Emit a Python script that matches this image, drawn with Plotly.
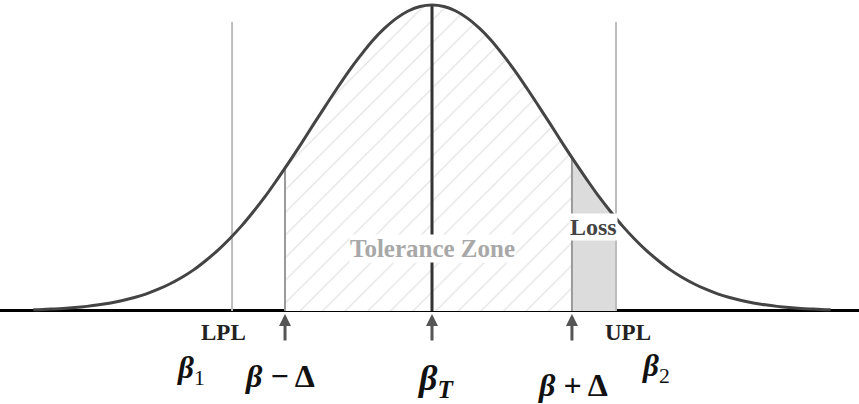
import plotly.graph_objects as go

# Curve (x in sigma units, height relative to peak)
curve_x = [-3.35, -3.3, -3.2, -3.1, -3.0, -2.9, -2.8, -2.7, -2.6, -2.5, -2.4, -2.3, -2.2, -2.1,
           -2.0, -1.9, -1.8, -1.7, -1.6, -1.5, -1.4, -1.3, -1.2, -1.1, -1.0, -0.9, -0.8,
           -0.7, -0.6, -0.5, -0.4, -0.3, -0.2, -0.1, 0.0, 0.1, 0.2, 0.3, 0.4, 0.5, 0.6,
           0.7, 0.8, 0.9, 1.0, 1.1, 1.2, 1.3, 1.4, 1.5, 1.6, 1.7, 1.8, 1.9, 2.0, 2.1,
           2.2, 2.3, 2.4, 2.5, 2.6, 2.7, 2.8, 2.9, 3.0, 3.1, 3.2, 3.3, 3.35]
curve_y = [0.004, 0.004, 0.006, 0.008, 0.011, 0.015, 0.020, 0.026, 0.034, 0.044, 0.056, 0.071,
           0.089, 0.110, 0.135, 0.165, 0.198, 0.236, 0.278, 0.325, 0.375, 0.430, 0.487,
           0.546, 0.607, 0.667, 0.726, 0.783, 0.835, 0.883, 0.923, 0.956, 0.980, 0.995,
           1.000, 0.995, 0.980, 0.956, 0.923, 0.883, 0.835, 0.783, 0.726, 0.667, 0.607,
           0.546, 0.487, 0.430, 0.375, 0.325, 0.278, 0.236, 0.198, 0.165, 0.135, 0.110,
           0.089, 0.071, 0.056, 0.044, 0.034, 0.026, 0.020, 0.015, 0.011, 0.008, 0.006,
           0.004, 0.004]

# Key positions
mark_names = ["LPL", "beta_minus", "beta_T", "beta_plus", "UPL"]
mark_x = [-1.68, -1.235, 0.0, 1.176, 1.546]
mark_top = [0.944, 0.467, 1.0, 0.500, 0.944]      # top of each vertical line
mark_curve = [0.244, 0.467, 1.0, 0.500, 0.303]    # curve height at each position

LPL, BMIN, BT, BPLUS, UPL = mark_x


def region(x0, x1):
    i0 = mark_x.index(x0)
    i1 = mark_x.index(x1)
    xs = [x0] + [x for x in curve_x if x0 < x < x1] + [x1]
    ys = [mark_curve[i0]] + [y for x, y in zip(curve_x, curve_y) if x0 < x < x1] + [mark_curve[i1]]
    return xs, ys


fig = go.Figure()

# Hatched tolerance zone
hx, hy = region(BMIN, BPLUS)
fig.add_trace(go.Scatter(
    x=hx, y=hy, mode="lines", fill="tozeroy", line=dict(width=0, shape="spline"),
    fillcolor="rgba(0,0,0,0)",
    fillpattern=dict(shape="/", fgcolor="#c8c8c8", bgcolor="white", size=16, solidity=0.08),
    hoverinfo="skip"))

# Loss region
lx, ly = region(BPLUS, UPL)
fig.add_trace(go.Scatter(
    x=lx, y=ly, mode="lines", fill="tozeroy", line=dict(width=0, shape="spline"),
    fillcolor="#dcdcdc", hoverinfo="skip"))

# Vertical lines
line_styles = {
    "LPL": dict(color="#bdbdbd", width=2),
    "beta_minus": dict(color="#9a9a9a", width=2),
    "beta_T": dict(color="#333333", width=3),
    "beta_plus": dict(color="#9a9a9a", width=2),
    "UPL": dict(color="#bdbdbd", width=2),
}
for name, xv, top in zip(mark_names, mark_x, mark_top):
    fig.add_trace(go.Scatter(x=[xv, xv], y=[0, top], mode="lines",
                             line=line_styles[name], hoverinfo="skip"))

# Normal curve
fig.add_trace(go.Scatter(x=curve_x, y=curve_y, mode="lines",
                         line=dict(color="#444444", width=3, shape="spline"),
                         hoverinfo="skip"))

serif = "Liberation Serif"
ann = []
ann.append(dict(x=0.0, y=0.203, text="<b>Tolerance Zone</b>", showarrow=False,
                font=dict(family=serif, size=25, color="#a8a8a8"), bgcolor="white",
                borderpad=0))
ann.append(dict(x=(BPLUS + UPL) / 2, y=0.275, text="<b>Loss</b>", showarrow=False,
                font=dict(family=serif, size=24, color="#444444"), bgcolor="white",
                borderpad=0))
ann.append(dict(x=LPL, y=-0.072, xshift=-9, text="<b>LPL</b>", showarrow=False,
                font=dict(family=serif, size=23, color="#222222")))
ann.append(dict(x=UPL, y=-0.072, xshift=12, text="<b>UPL</b>", showarrow=False,
                font=dict(family=serif, size=23, color="#222222")))
ann.append(dict(x=LPL, y=-0.193, xshift=-41, text="<b><i>β</i></b><sub>1</sub>",
                showarrow=False, font=dict(family=serif, size=31, color="#111111")))
ann.append(dict(x=BMIN, y=-0.212, xshift=-5, text="<b><i>β</i> − Δ</b>",
                showarrow=False, font=dict(family=serif, size=32, color="#111111")))
ann.append(dict(x=BT, y=-0.228, xshift=3, text="<b><i>β<sub>T</sub></i></b>",
                showarrow=False, font=dict(family=serif, size=36, color="#111111")))
ann.append(dict(x=BPLUS, y=-0.242, xshift=1, text="<b><i>β</i> + Δ</b>",
                showarrow=False, font=dict(family=serif, size=32, color="#111111")))
ann.append(dict(x=UPL, y=-0.186, xshift=40, text="<b><i>β</i></b><sub>2</sub>",
                showarrow=False, font=dict(family=serif, size=31, color="#111111")))
for xv in (BMIN, BT, BPLUS):
    ann.append(dict(x=xv, y=-0.01, ax=0, ay=28, text="", showarrow=True,
                    arrowhead=2, arrowsize=0.8, arrowwidth=3, arrowcolor="#555555"))

fig.update_layout(
    width=859, height=404,
    margin=dict(l=0, r=0, t=0, b=0),
    paper_bgcolor="white", plot_bgcolor="white",
    showlegend=False,
    xaxis=dict(range=[-3.630, 3.588], visible=False, fixedrange=True),
    yaxis=dict(range=[-0.304, 1.016], showgrid=False, showticklabels=False,
               zeroline=True, zerolinecolor="#000000", zerolinewidth=3,
               showline=False, ticks="", fixedrange=True),
    annotations=ann,
)

fig.write_html("out.html", config={"displayModeBar": False},
               post_script="document.body.style.margin='0';")
